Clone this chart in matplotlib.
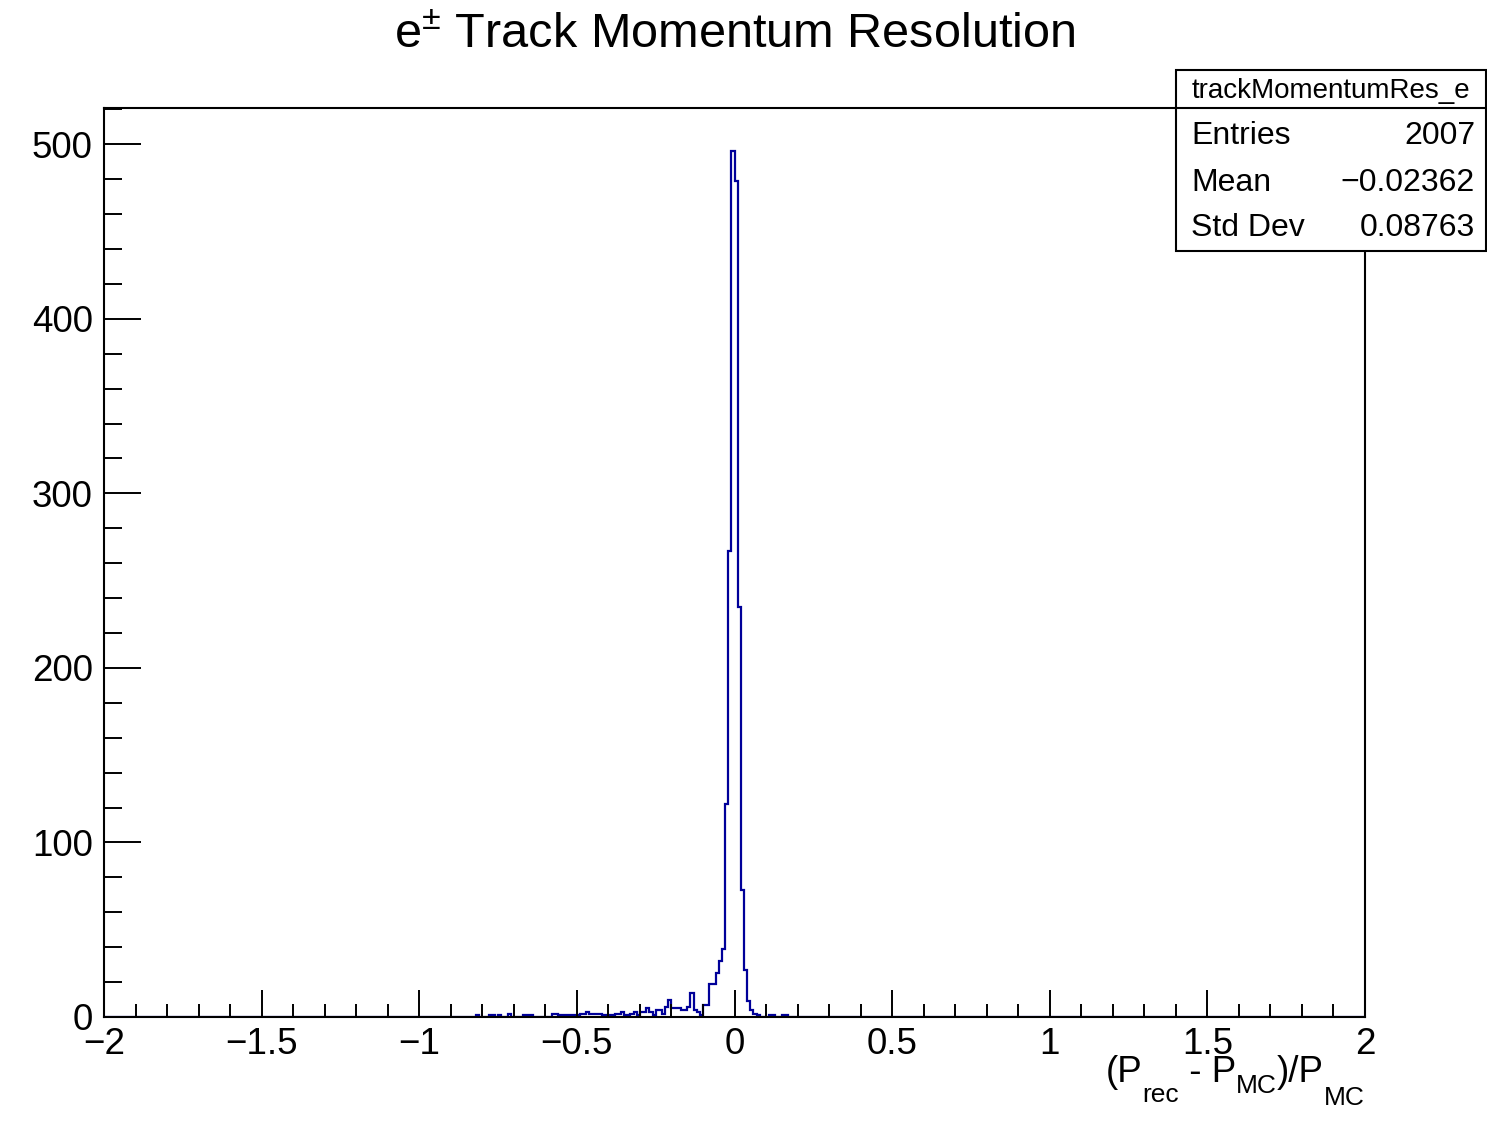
import numpy as np
import matplotlib
matplotlib.use("Agg")
import matplotlib.pyplot as plt
from matplotlib.patches import Rectangle
from matplotlib.lines import Line2D
from matplotlib.ticker import MultipleLocator

plt.rcParams['font.family'] = ['Liberation Sans', 'DejaVu Sans']
plt.rcParams['mathtext.fontset'] = 'custom'
plt.rcParams['mathtext.rm'] = 'Liberation Sans'
plt.rcParams['mathtext.it'] = 'Liberation Sans'
plt.rcParams['mathtext.sf'] = 'Liberation Sans'

# ---- data ----
title_main = "Track Momentum Resolution"
hist_name = "trackMomentumRes_e"
stat_labels = ["Entries", "Mean", "Std Dev"]
stat_values = ["2007", "\u22120.02362", "0.08763"]
x_min, x_max, n_bins = -2.0, 2.0, 400
# counts for bins starting at -0.85 (bin width 0.01), up to 0.20
first_bin_low = -0.85
counts_window = [
    0, 0, 0, 1, 0, 0, 0, 1, 1, 0,      # -0.85 .. -0.76
    1, 0, 0, 2, 0, 0, 0, 0, 1, 1,      # -0.75 .. -0.66
    1, 0, 0, 0, 0, 0, 0, 2, 2, 1,      # -0.65 .. -0.56
    1, 1, 1, 1, 1, 1, 2, 2, 3, 2,      # -0.55 .. -0.46
    2, 2, 2, 1, 1, 1, 1, 2, 2, 3,      # -0.45 .. -0.36
    1, 1, 2, 3, 1, 3, 3, 5, 3, 1,      # -0.35 .. -0.26
    4, 4, 2, 6, 10, 5, 5, 5, 4, 4,     # -0.25 .. -0.16
    6, 14, 4, 3, 1, 7, 7, 19, 19, 25,  # -0.15 .. -0.06
    32, 39, 122, 267, 496, 479, 235, 73, 27, 9,  # -0.05 .. 0.04
    4, 2, 1, 0, 0, 0, 1, 1, 0, 0,      # 0.05 .. 0.14
    1, 1, 0, 0, 0,                     # 0.15 .. 0.19
]

edges = np.linspace(x_min, x_max, n_bins + 1)
counts = np.zeros(n_bins)
start = int(round((first_bin_low - x_min) / 0.01))
counts[start:start + len(counts_window)] = counts_window

W, H = 1487, 1124
fig = plt.figure(figsize=(W / 100, H / 100), dpi=100)
ax = fig.add_axes([104 / W, 1 - 1017 / H, (1365 - 104) / W, (1017 - 108) / H])

ax.stairs(counts, edges, color=(0, 0, 0.6), lw=1.6, zorder=1)
ax.set_xlim(x_min, x_max)
ax.set_ylim(0, counts.max() * 1.05)

for s in ax.spines.values():
    s.set_linewidth(1.5)
    s.set_zorder(3)

ax.xaxis.set_major_locator(MultipleLocator(0.5))
ax.xaxis.set_minor_locator(MultipleLocator(0.1))
ax.yaxis.set_major_locator(MultipleLocator(100))
ax.yaxis.set_minor_locator(MultipleLocator(20))
ax.tick_params(axis='x', which='major', direction='in', length=19.5, width=1.4,
               labelsize=26.5, pad=7, top=False)
ax.tick_params(axis='x', which='minor', direction='in', length=9.5, width=1.4, top=False)
ax.tick_params(axis='y', which='major', direction='in', length=26.5, width=1.4,
               labelsize=26.5, pad=8, right=False)
ax.tick_params(axis='y', which='minor', direction='in', length=13, width=1.4, right=False)

def fmt(v):
    s = ("%g" % v)
    return s.replace("-", "\u2212")
xt = np.arange(-2, 2.01, 0.5)
ax.set_xticks(xt)
ax.set_xticklabels([fmt(v) for v in xt])

# title with superscript +-
fig.text(735 / W, 1 - 35 / H, r'e$^{\pm}$ ' + title_main, ha='center', va='center',
         fontsize=35)

# x axis label built from pieces (ROOT-like deep subscripts)
pieces = [("(P", 26.5, 1072), ("rec", 19, 1095), (" - P", 26.5, 1072),
          ("MC", 19, 1086), (")/P", 26.5, 1072), ("MC", 19, 1098)]
renderer = fig.canvas.get_renderer()
objs = []
for txt, fs, yy in pieces:
    t = fig.text(0, 1 - yy / H, txt, ha='left', va='center', fontsize=fs)
    objs.append(t)
widths = [o.get_window_extent(renderer).width for o in objs]
x = 1365 - sum(widths)
for o, w in zip(objs, widths):
    o.set_x(x / W)
    x += w

# stats box
bx0, bx1 = 1176 / W, 1486 / W
by_top, by_sep, by_bot = 1 - 70 / H, 1 - 108 / H, 1 - 251 / H
fig.patches.append(Rectangle((bx0, by_bot), bx1 - bx0, by_top - by_bot,
                             transform=fig.transFigure, facecolor='white',
                             edgecolor='black', lw=1.5, zorder=5))
fig.lines.append(Line2D([bx0, bx1], [by_sep, by_sep], transform=fig.transFigure,
                        color='black', lw=1.5, zorder=6))
fig.text((bx0 + bx1) / 2, 1 - 91 / H, hist_name, ha='center', va='center',
         fontsize=20, zorder=7)
row_y = [136, 183, 228]
for lab, val, yy in zip(stat_labels, stat_values, row_y):
    fig.text(1191 / W, 1 - yy / H, lab, ha='left', va='center', fontsize=23, zorder=7)
    fig.text(1475 / W, 1 - yy / H, val, ha='right', va='center', fontsize=23, zorder=7)

fig.savefig("out.png", dpi=100)
